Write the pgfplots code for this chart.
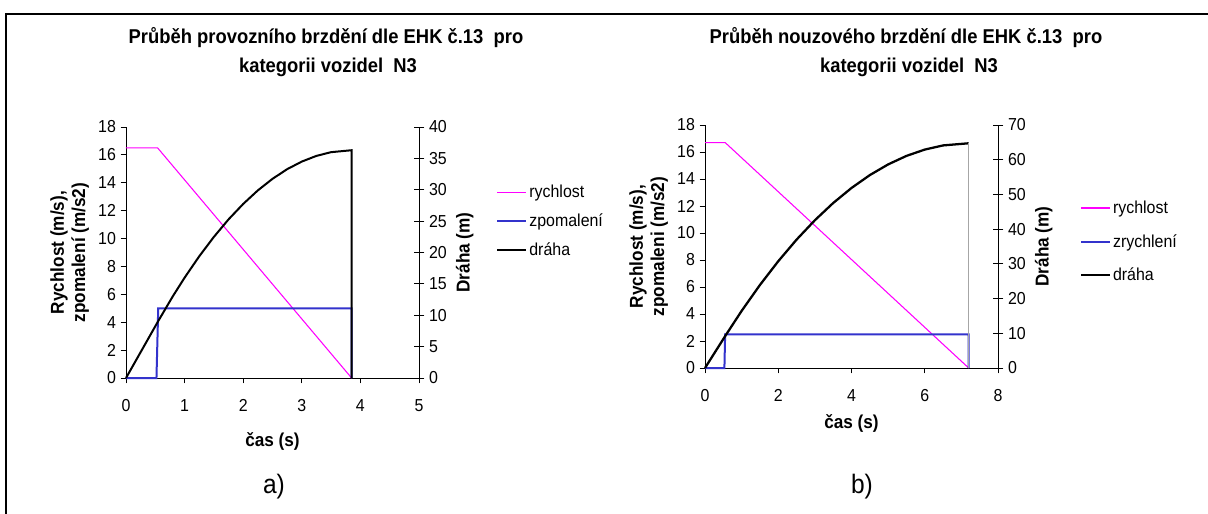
\documentclass[border=0pt]{standalone}
\usepackage{pgfplots}
\pgfplotsset{compat=1.18}
\usepackage{fontspec}
\setmainfont{Liberation Sans}[FakeStretch=0.92]
\definecolor{mag}{RGB}{255,0,255}
\definecolor{blu}{RGB}{51,51,204}
\pgfplotsset{
  common/.style={scale only axis, anchor=south west, width=219.75pt,
    axis x line*=bottom, axis y line*=left, tick align=outside, major tick length=4pt,
    every tick/.style={black, line width=0.6pt},
    axis line style={black, line width=0.7pt, -},
    tick label style={font=\fontsize{13}{15}\selectfont},
    xticklabel style={yshift=-8.5pt},
    /pgf/number format/assume math mode=true,
    label style={font=\bfseries\fontsize{14}{16}\selectfont},
    ylabel style={align=center},
    clip=false,
    legend style={draw=none, fill=none, font=\fontsize{13}{15}\selectfont, anchor=north west},
    legend cell align=left,
    legend image code/.code={\draw[##1, line width=1.3pt] (0cm,0cm) -- (0.75cm,0cm);},
  },
  twin/.style={scale only axis, anchor=south west, width=219.75pt,
    axis x line=none, axis y line*=right, tick align=center, major tick length=8pt,
    every tick/.style={black, line width=0.6pt},
    axis line style={black, line width=0.7pt, -},
    tick label style={font=\fontsize{13}{15}\selectfont},
    /pgf/number format/assume math mode=true,
    label style={font=\bfseries\fontsize{14}{16}\selectfont},
    clip=false,
  },
}
\begin{document}
\begin{tikzpicture}[x=0.75pt,y=-0.75pt]
\path[use as bounding box] (0,0) rectangle (1208,514);
\draw[line width=1.6pt] (6,514) -- (6,14) -- (1208,14);
\node[font=\bfseries\fontsize{15}{17}\selectfont] at (326,38) {Průběh provozního brzdění dle EHK č.13\ \ pro};
\node[font=\bfseries\fontsize{15}{17}\selectfont] at (328,67) {kategorii vozidel\ \ N3};
\node[font=\bfseries\fontsize{15}{17}\selectfont] at (906,38) {Průběh nouzového brzdění dle EHK č.13\ \ pro};
\node[font=\bfseries\fontsize{15}{17}\selectfont] at (909,67) {kategorii vozidel\ \ N3};
\node[font=\fontsize{20}{23}\selectfont] at (274,487) {a)};
\node[font=\fontsize{20}{23}\selectfont] at (862,487) {b)};

% ---- chart a ----
\begin{axis}[common, at={(94.5pt,-283.5pt)}, height=188.25pt,
  xmin=0, xmax=5, xtick={0,...,5}, ymin=0, ymax=18, ytick={0,2,...,18},
  xlabel={čas (s)}, ylabel={Rychlost (m/s),\\zpomalení (m/s2)},
  xlabel style={yshift=-9pt},
  legend style={at={(1.25,0.79)}, row sep=6.5pt}]
\addplot[mag, line width=0.8pt] coordinates {(0,16.5) (0.54,16.5) (3.85,0)};
\addlegendentry{rychlost}
\addplot[blu, line width=1.5pt] coordinates {(0,0) (0.52,0) (0.55,5) (3.85,5) (3.85,0)};
\addlegendentry{zpomalení}
\addlegendimage{black, line width=1.5pt}
\addlegendentry{dráha}
\end{axis}
\begin{axis}[twin, at={(94.5pt,-283.5pt)}, height=188.25pt,
  xmin=0, xmax=5, ymin=0, ymax=40, ytick={0,5,...,40}, ylabel={Dráha (m)}]
\addplot[black, line width=1.5pt] coordinates {(0,0) (0.25,4.125) (0.55,9.075) (0.8,13.04) (1.0,15.99) (1.25,19.40) (1.5,22.49) (1.75,25.28) (2.0,27.74) (2.25,29.90) (2.5,31.74) (2.75,33.28) (3.0,34.49) (3.25,35.40) (3.5,35.99) (3.85,36.30) (3.85,0)};
\end{axis}

% ---- chart b ----
\begin{axis}[common, at={(528.75pt,-276pt)}, height=182.25pt,
  xmin=0, xmax=8, xtick={0,2,...,8}, ymin=0, ymax=18, ytick={0,2,...,18},
  xlabel={čas (s)}, ylabel={Rychlost (m/s),\\zpomaleni (m/s2)},
  xlabel style={yshift=-3pt},
  legend style={at={(1.266,0.71)}, row sep=10pt}]
\addplot[mag, line width=0.8pt] coordinates {(0,16.7) (0.55,16.7) (7.2,0)};
\addlegendentry{rychlost}
\addplot[blu, line width=1.5pt] coordinates {(0,0) (0.53,0) (0.55,2.5) (7.2,2.5) (7.2,0)};
\addlegendentry{zrychlení}
\addlegendimage{black, line width=1.5pt}
\addlegendentry{dráha}
\end{axis}
\begin{axis}[twin, at={(528.75pt,-276pt)}, height=182.25pt,
  xmin=0, xmax=8, ymin=0, ymax=70, ytick={0,10,...,70}, ylabel={Dráha (m)}]
\addplot[black, line width=1.7pt] coordinates {(0,0) (0.25,4.175) (0.55,9.185) (1.0,16.45) (1.5,23.92) (2.0,30.76) (2.5,36.98) (3.0,42.57) (3.5,47.53) (4.0,51.86) (4.5,55.57) (5.0,58.65) (5.5,61.10) (6.0,62.92) (6.5,64.12) (7.2,64.74)};
\addplot[gray!70, line width=0.6pt] coordinates {(7.2,64.74) (7.2,0)};
\end{axis}
\end{tikzpicture}
\end{document}
